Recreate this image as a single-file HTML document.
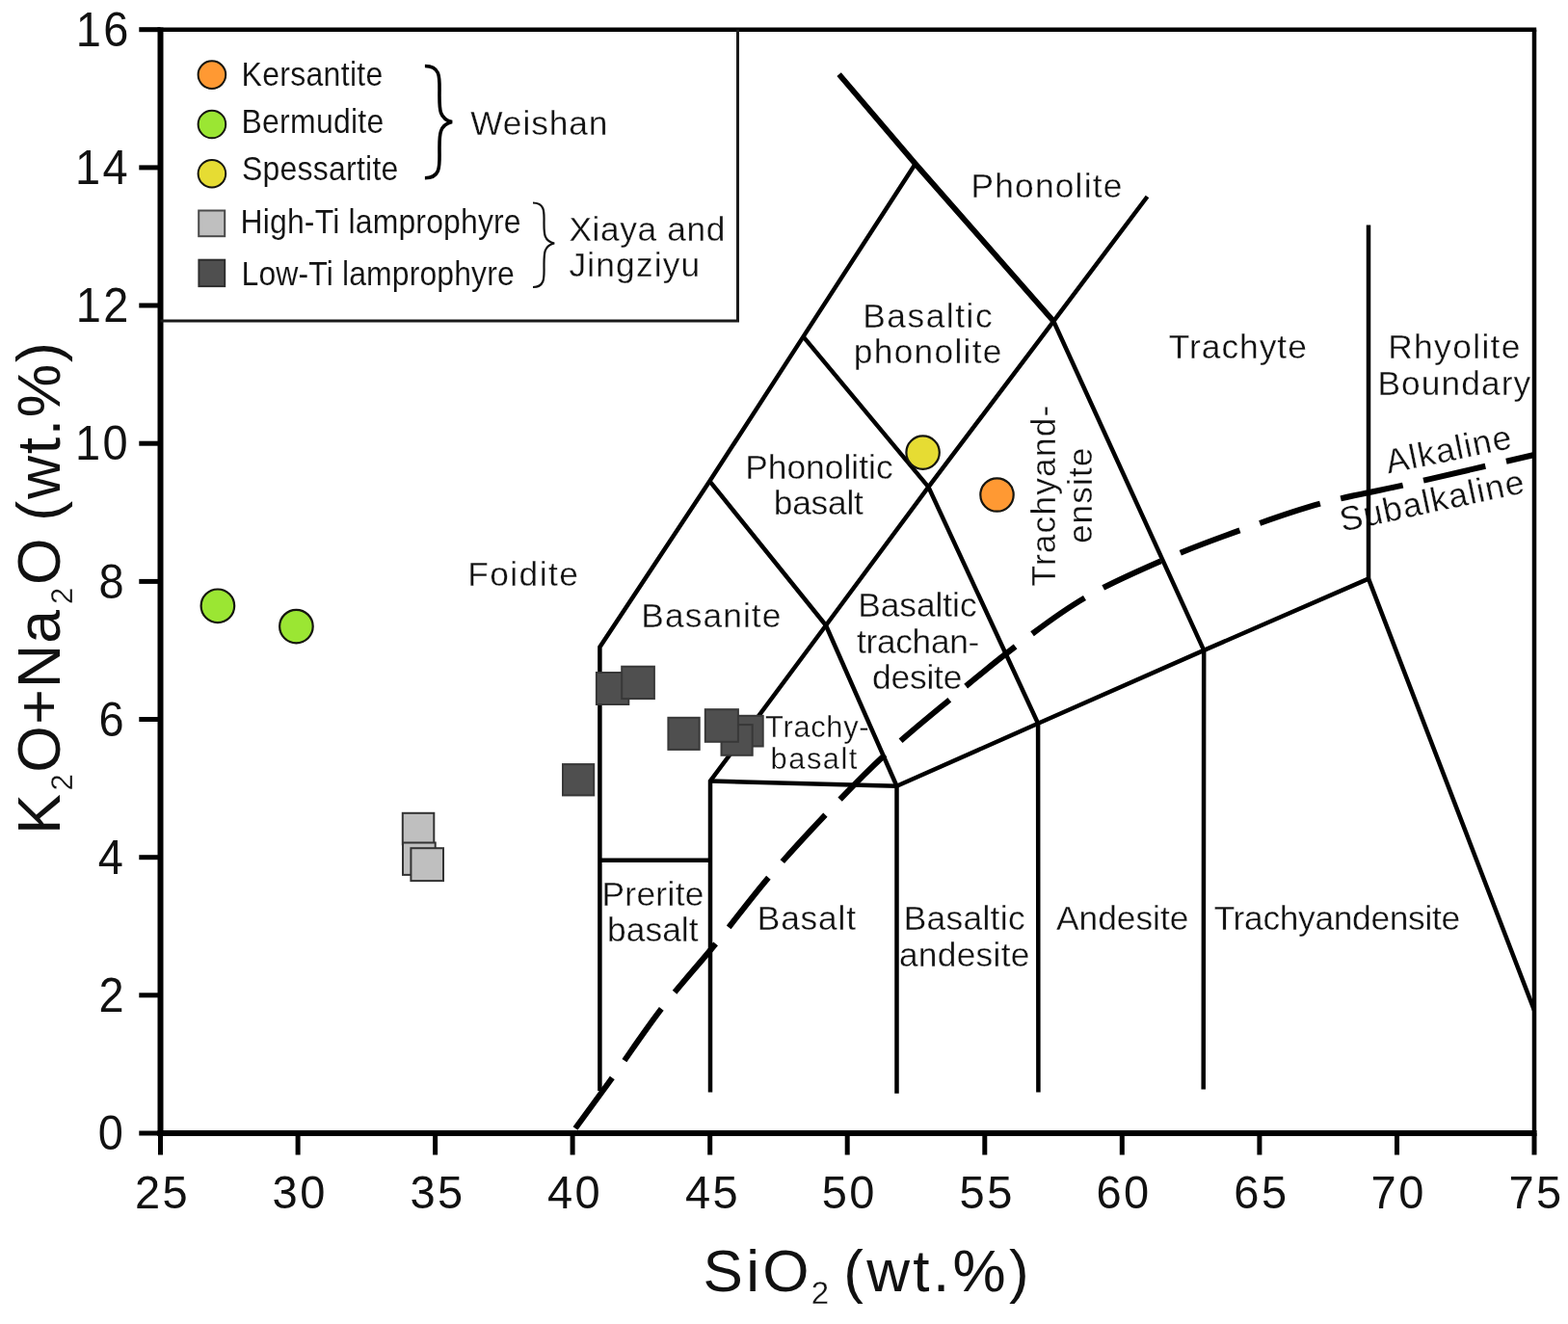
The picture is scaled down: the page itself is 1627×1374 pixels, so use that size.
<!DOCTYPE html>
<html lang="en"><head><meta charset="utf-8"><title>TAS diagram</title>
<style>html,body{margin:0;padding:0;background:#fff}body{width:1627px;height:1374px;overflow:hidden}svg{display:block}text{font-family:"Liberation Sans", sans-serif;fill:#111}</style>
</head><body>
<svg width="1627" height="1374" viewBox="0 0 1627 1374">
<rect width="1627" height="1374" fill="#fff"/>
<g id="labels">
<text transform="translate(139.94 1253.80) scale(0.9600 1)" font-size="49" letter-spacing="2.600">25</text>
<text transform="translate(282.49 1253.80) scale(0.9600 1)" font-size="49" letter-spacing="2.600">30</text>
<text transform="translate(425.41 1253.80) scale(0.9600 1)" font-size="49" letter-spacing="2.600">35</text>
<text transform="translate(567.96 1253.80) scale(0.9600 1)" font-size="49" letter-spacing="2.600">40</text>
<text transform="translate(710.88 1253.80) scale(0.9600 1)" font-size="49" letter-spacing="2.600">45</text>
<text transform="translate(852.69 1253.80) scale(0.9600 1)" font-size="49" letter-spacing="2.600">50</text>
<text transform="translate(995.61 1253.80) scale(0.9600 1)" font-size="49" letter-spacing="2.600">55</text>
<text transform="translate(1137.42 1253.80) scale(0.9600 1)" font-size="49" letter-spacing="2.600">60</text>
<text transform="translate(1280.34 1253.80) scale(0.9600 1)" font-size="49" letter-spacing="2.600">65</text>
<text transform="translate(1422.52 1253.80) scale(0.9600 1)" font-size="49" letter-spacing="2.600">70</text>
<text transform="translate(1565.44 1253.80) scale(0.9600 1)" font-size="49" letter-spacing="2.600">75</text>
<text transform="translate(101.85 1193.30) scale(0.9300 1)" font-size="50.5" letter-spacing="2.600">0</text>
<text transform="translate(102.58 1050.14) scale(0.9300 1)" font-size="50.5" letter-spacing="2.600">2</text>
<text transform="translate(101.85 906.97) scale(0.9300 1)" font-size="50.5" letter-spacing="2.600">4</text>
<text transform="translate(102.58 763.81) scale(0.9300 1)" font-size="50.5" letter-spacing="2.600">6</text>
<text transform="translate(102.58 620.65) scale(0.9300 1)" font-size="50.5" letter-spacing="2.600">8</text>
<text transform="translate(78.01 477.49) scale(0.9300 1)" font-size="50.5" letter-spacing="2.600">10</text>
<text transform="translate(78.75 334.33) scale(0.9300 1)" font-size="50.5" letter-spacing="2.600">12</text>
<text transform="translate(78.01 191.16) scale(0.9300 1)" font-size="50.5" letter-spacing="2.600">14</text>
<text transform="translate(78.75 48.00) scale(0.9300 1)" font-size="50.5" letter-spacing="2.600">16</text>
<text font-size="62"><tspan x="729.56" y="1340.40" font-size="62" letter-spacing="3.289">SiO</tspan><tspan x="841.75" y="1353.30" font-size="33" letter-spacing="0.000" stroke="#fff" stroke-width="0.3">2 </tspan><tspan x="875.19" y="1340.40" font-size="62" letter-spacing="3.374">(wt.%)</tspan></text>
<text transform="rotate(-90)" font-size="62.5"><tspan x="-865.78" y="62.20" font-size="62.5" letter-spacing="0.000">K</tspan><tspan x="-820.55" y="74.80" font-size="31" letter-spacing="0.000" stroke="#fff" stroke-width="0.3">2</tspan><tspan x="-801.63" y="62.20" font-size="62.5" letter-spacing="1.208">O+Na</tspan><tspan x="-626.95" y="74.80" font-size="31" letter-spacing="0.000" stroke="#fff" stroke-width="0.3">2</tspan><tspan x="-606.93" y="62.20" font-size="62.5" letter-spacing="0.000">O </tspan><tspan x="-540.63" y="62.20" font-size="62.5" letter-spacing="1.700">(wt.%)</tspan></text>
<text transform="translate(250.50 88.50) scale(0.9000 1)" font-size="35.5" letter-spacing="0.363" stroke="#fff" stroke-width="0.12">Kersantite</text>
<text transform="translate(250.50 138.30) scale(0.9000 1)" font-size="35.5" letter-spacing="0.302" stroke="#fff" stroke-width="0.12">Bermudite</text>
<text transform="translate(251.00 187.20) scale(0.9000 1)" font-size="35.5" letter-spacing="0.274" stroke="#fff" stroke-width="0.12">Spessartite</text>
<text transform="translate(249.50 242.40) scale(0.9000 1)" font-size="35.5" letter-spacing="0.182" stroke="#fff" stroke-width="0.12">High-Ti lamprophyre</text>
<text transform="translate(250.50 296.40) scale(0.9000 1)" font-size="35.5" letter-spacing="0.141" stroke="#fff" stroke-width="0.12">Low-Ti lamprophyre</text>
<text transform="translate(488.30 140.00)" font-size="35.3" letter-spacing="0.897" stroke="#fff" stroke-width="0.3">Weishan</text>
<text font-size="35.3"><tspan x="590.45" y="249.70" font-size="35.3" letter-spacing="0.604" stroke="#fff" stroke-width="0.3">Xiaya and </tspan><tspan x="590.45" y="287.30" font-size="35.3" letter-spacing="1.172" stroke="#fff" stroke-width="0.3">Jingziyu</tspan></text>
<text transform="translate(1007.44 204.70)" font-size="35.3" letter-spacing="1.224" stroke="#fff" stroke-width="0.3">Phonolite</text>
<text font-size="35.3"><tspan x="895.24" y="340.00" font-size="35.3" letter-spacing="1.530" stroke="#fff" stroke-width="0.3">Basaltic </tspan><tspan x="885.79" y="377.00" font-size="35.3" letter-spacing="1.294" stroke="#fff" stroke-width="0.3">phonolite</tspan></text>
<text transform="translate(1212.75 371.60)" font-size="35.3" letter-spacing="1.010" stroke="#fff" stroke-width="0.3">Trachyte</text>
<text font-size="35.3"><tspan x="1440.24" y="372.00" font-size="35.3" letter-spacing="1.380" stroke="#fff" stroke-width="0.3">Rhyolite </tspan><tspan x="1429.44" y="409.50" font-size="35.3" letter-spacing="1.092" stroke="#fff" stroke-width="0.3">Boundary</tspan></text>
<text font-size="35.3"><tspan x="773.24" y="497.00" font-size="35.3" letter-spacing="0.028" stroke="#fff" stroke-width="0.3">Phonolitic </tspan><tspan x="802.79" y="534.00" font-size="35.3" letter-spacing="-0.222" stroke="#fff" stroke-width="0.3">basalt</tspan></text>
<text transform="translate(485.14 607.50)" font-size="35.3" letter-spacing="1.473" stroke="#fff" stroke-width="0.3">Foidite</text>
<text transform="translate(665.24 651.30)" font-size="35.3" letter-spacing="1.116" stroke="#fff" stroke-width="0.3">Basanite</text>
<text font-size="35.3"><tspan x="890.24" y="640.00" font-size="35.3" letter-spacing="-0.042" stroke="#fff" stroke-width="0.3">Basaltic </tspan><tspan x="889.00" y="678.00" font-size="35.3" letter-spacing="-0.317" stroke="#fff" stroke-width="0.3">trachan-</tspan><tspan x="904.90" y="715.30" font-size="35.3" letter-spacing="-0.133" stroke="#fff" stroke-width="0.3">desite</tspan></text>
<text font-size="30.8"><tspan x="794.02" y="764.50" font-size="30.8" letter-spacing="0.725" stroke="#fff" stroke-width="0.3">Trachy-</tspan><tspan x="799.58" y="798.20" font-size="30.8" letter-spacing="1.526" stroke="#fff" stroke-width="0.3">basalt</tspan></text>
<text font-size="35.3"><tspan x="624.44" y="939.50" font-size="35.3" letter-spacing="0.336" stroke="#fff" stroke-width="0.3">Prerite </tspan><tspan x="629.99" y="977.00" font-size="35.3" letter-spacing="0.078" stroke="#fff" stroke-width="0.3">basalt</tspan></text>
<text transform="translate(785.74 965.00)" font-size="35.3" letter-spacing="0.846" stroke="#fff" stroke-width="0.3">Basalt</text>
<text font-size="35.3"><tspan x="937.74" y="965.00" font-size="35.3" letter-spacing="0.315" stroke="#fff" stroke-width="0.3">Basaltic </tspan><tspan x="932.90" y="1003.00" font-size="35.3" letter-spacing="0.296" stroke="#fff" stroke-width="0.3">andesite</tspan></text>
<text transform="translate(1096.00 965.00)" font-size="35.3" letter-spacing="0.008" stroke="#fff" stroke-width="0.3">Andesite</text>
<text transform="translate(1259.65 965.00)" font-size="35.3" letter-spacing="-0.299" stroke="#fff" stroke-width="0.3">Trachyandensite</text>
<text transform="rotate(-90)" font-size="35.3"><tspan x="-608.55" y="1095.20" font-size="35.3" letter-spacing="1.178" stroke="#fff" stroke-width="0.3">Trachyand-</tspan><tspan x="-564.10" y="1133.00" font-size="35.3" letter-spacing="1.067" stroke="#fff" stroke-width="0.3">ensite</tspan></text>
<text transform="translate(1440.60 491.60) rotate(-11.70) translate(0.00 0)" font-size="35.3" letter-spacing="1.216" stroke="#fff" stroke-width="0.3">Alkaline</text>
<text transform="translate(1394.00 551.40) rotate(-12.00) translate(-1.10 0)" font-size="35.3" letter-spacing="1.202" stroke="#fff" stroke-width="0.3">Subalkaline</text>
</g>
<g id="tas-lines">
<polyline points="622.4,1132.0 622.4,671.4 736.4,499.3 833.5,349.4 949.8,170.0" fill="none" stroke="#000" stroke-width="4.50" stroke-linejoin="miter" />
<polyline points="949.8,170.0 1093.2,333.3 1249.2,674.9 1248.7,1130.5" fill="none" stroke="#000" stroke-width="4.50" stroke-linejoin="miter" />
<polyline points="870.6,77.1 949.8,170.0 1093.2,333.3" fill="none" stroke="#000" stroke-width="5.80" stroke-linejoin="miter" />
<polyline points="1190.5,204.0 1093.2,333.3 963.4,505.4 857.0,649.0 737.0,810.5 737.0,1133.5" fill="none" stroke="#000" stroke-width="4.50" stroke-linejoin="miter" />
<polyline points="736.4,499.3 857.0,649.0 930.5,815.8 930.5,1134.8" fill="none" stroke="#000" stroke-width="4.50" stroke-linejoin="miter" />
<polyline points="833.5,349.4 963.4,505.4 1077.1,750.8 1077.4,1133.5" fill="none" stroke="#000" stroke-width="4.50" stroke-linejoin="miter" />
<polyline points="737.0,810.5 930.5,815.8" fill="none" stroke="#000" stroke-width="4.50" stroke-linejoin="miter" />
<polyline points="930.5,815.8 1077.1,750.8 1249.2,674.9 1420.0,600.6 1592.0,1048.5" fill="none" stroke="#000" stroke-width="4.50" stroke-linejoin="miter" />
<polyline points="1420.0,600.6 1420.0,233.5" fill="none" stroke="#000" stroke-width="4.50" stroke-linejoin="miter" />
<polyline points="622.4,892.7 737.0,892.7" fill="none" stroke="#000" stroke-width="4.50" stroke-linejoin="miter" />
</g>
<path id="alk-line" d="M597.0,1171.0 C603.5,1162.1 621.0,1138.3 636.0,1117.5 C651.0,1096.7 669.2,1069.0 687.0,1046.0 C704.8,1023.0 724.0,1002.2 742.5,979.5 C761.0,956.8 778.9,932.4 798.0,910.0 C817.1,887.6 837.1,866.0 857.0,845.0 C876.9,824.0 896.1,803.8 917.5,784.0 C938.9,764.2 962.8,744.8 985.5,726.0 C1008.2,707.2 1030.2,688.6 1053.5,671.0 C1076.8,653.4 1100.2,635.3 1125.5,620.5 C1150.8,605.7 1178.0,593.8 1205.0,582.0 C1232.0,570.2 1259.9,559.9 1287.5,550.0 C1315.1,540.1 1342.4,530.2 1370.5,522.5 C1398.6,514.8 1427.5,510.0 1456.0,503.5 C1484.5,497.0 1518.8,488.9 1541.5,483.7 C1564.2,478.4 1583.6,473.9 1592.0,472.0" fill="none" stroke="#000" stroke-width="6" stroke-dasharray="65.95 21.95" stroke-dashoffset="1"/>
<g id="frame" stroke="#000" fill="none">
<line x1="163.5" y1="30.7" x2="1594.2" y2="30.7" stroke-width="4.5"/>
<line x1="1592.0" y1="30.7" x2="1592.0" y2="1176.0" stroke-width="4.5"/>
<line x1="166.5" y1="28.4" x2="166.5" y2="1179.0" stroke-width="6"/>
<line x1="163.5" y1="1176.0" x2="1594.5" y2="1176.0" stroke-width="6"/>
<line x1="166.5" y1="1176.0" x2="166.5" y2="1198.5" stroke-width="5"/>
<line x1="309.1" y1="1176.0" x2="309.1" y2="1198.5" stroke-width="5"/>
<line x1="451.6" y1="1176.0" x2="451.6" y2="1198.5" stroke-width="5"/>
<line x1="594.1" y1="1176.0" x2="594.1" y2="1198.5" stroke-width="5"/>
<line x1="736.7" y1="1176.0" x2="736.7" y2="1198.5" stroke-width="5"/>
<line x1="879.2" y1="1176.0" x2="879.2" y2="1198.5" stroke-width="5"/>
<line x1="1021.8" y1="1176.0" x2="1021.8" y2="1198.5" stroke-width="5"/>
<line x1="1164.3" y1="1176.0" x2="1164.3" y2="1198.5" stroke-width="5"/>
<line x1="1306.9" y1="1176.0" x2="1306.9" y2="1198.5" stroke-width="5"/>
<line x1="1449.5" y1="1176.0" x2="1449.5" y2="1198.5" stroke-width="5"/>
<line x1="1592.0" y1="1176.0" x2="1592.0" y2="1198.5" stroke-width="5"/>
<line x1="144.3" y1="1176.0" x2="166.5" y2="1176.0" stroke-width="5"/>
<line x1="144.3" y1="1032.8" x2="166.5" y2="1032.8" stroke-width="5"/>
<line x1="144.3" y1="889.7" x2="166.5" y2="889.7" stroke-width="5"/>
<line x1="144.3" y1="746.5" x2="166.5" y2="746.5" stroke-width="5"/>
<line x1="144.3" y1="603.4" x2="166.5" y2="603.4" stroke-width="5"/>
<line x1="144.3" y1="460.2" x2="166.5" y2="460.2" stroke-width="5"/>
<line x1="144.3" y1="317.0" x2="166.5" y2="317.0" stroke-width="5"/>
<line x1="144.3" y1="173.9" x2="166.5" y2="173.9" stroke-width="5"/>
<line x1="144.3" y1="30.7" x2="166.5" y2="30.7" stroke-width="5"/>
</g>
<polyline points="765.5,30.7 765.5,333.1 166.5,333.1" fill="none" stroke="#1a1a1a" stroke-width="3"/>
<circle cx="219.9" cy="77.6" r="14.3" fill="#ff9933" stroke="#151510" stroke-width="2.0"/>
<circle cx="219.9" cy="129.0" r="14.3" fill="#9be633" stroke="#151510" stroke-width="2.0"/>
<circle cx="219.9" cy="180.2" r="14.3" fill="#e6dc33" stroke="#151510" stroke-width="2.0"/>
<rect x="206.2" y="218.5" width="27.0" height="26.7" fill="#bfbfbf" stroke="#4a4a4a" stroke-width="2.0"/>
<rect x="206.4" y="269.7" width="26.8" height="27.4" fill="#4f4f4f" stroke="#2e2e2e" stroke-width="2.0"/>
<path d="M440.9,68.5 C458,68.5 456,82 456,97 C456,112 455,123 469,126.6 C455,130 456,141 456,156 C456,171 458,184.7 440.9,184.7" fill="none" stroke="#000" stroke-width="3.6"/>
<path d="M553,210.5 C566,210.5 564.5,221 564.5,231 C564.5,242 564,250 575.2,252.5 C564,255 564.5,263 564.5,276 C564.5,287 566,298 553,298" fill="none" stroke="#111" stroke-width="2.2"/>
<g id="points">
<circle cx="225.9" cy="628.8" r="17.3" fill="#9be633" stroke="#151510" stroke-width="2.2"/>
<circle cx="307.4" cy="650.1" r="17.3" fill="#9be633" stroke="#151510" stroke-width="2.2"/>
<circle cx="957.6" cy="469.6" r="17.2" fill="#e6dc33" stroke="#151510" stroke-width="2.2"/>
<circle cx="1034.5" cy="513.5" r="17.2" fill="#ff9933" stroke="#151510" stroke-width="2.2"/>
<rect x="417.8" y="843.8" width="32.5" height="32.5" fill="#bfbfbf" stroke="#333" stroke-width="2.0"/>
<rect x="418.0" y="874.5" width="33.7" height="33.4" fill="#bfbfbf" stroke="#333" stroke-width="2.0"/>
<rect x="426.4" y="880.2" width="33.6" height="33.9" fill="#bfbfbf" stroke="#333" stroke-width="2.0"/>
<rect x="584.0" y="793.1" width="32.2" height="32.3" fill="#4f4f4f" stroke="#383838" stroke-width="2.0"/>
<rect x="618.9" y="698.0" width="33.4" height="33.0" fill="#4f4f4f" stroke="#383838" stroke-width="2.0"/>
<rect x="645.2" y="691.7" width="33.7" height="33.4" fill="#4f4f4f" stroke="#383838" stroke-width="2.0"/>
<rect x="693.4" y="744.8" width="32.3" height="33.1" fill="#4f4f4f" stroke="#383838" stroke-width="2.0"/>
<rect x="758.7" y="742.8" width="33.0" height="31.7" fill="#4f4f4f" stroke="#383838" stroke-width="2.0"/>
<rect x="748.5" y="752.1" width="32.2" height="31.7" fill="#4f4f4f" stroke="#383838" stroke-width="2.0"/>
<rect x="731.8" y="736.2" width="34.1" height="33.6" fill="#4f4f4f" stroke="#383838" stroke-width="2.0"/>
</g>
</svg></body></html>
